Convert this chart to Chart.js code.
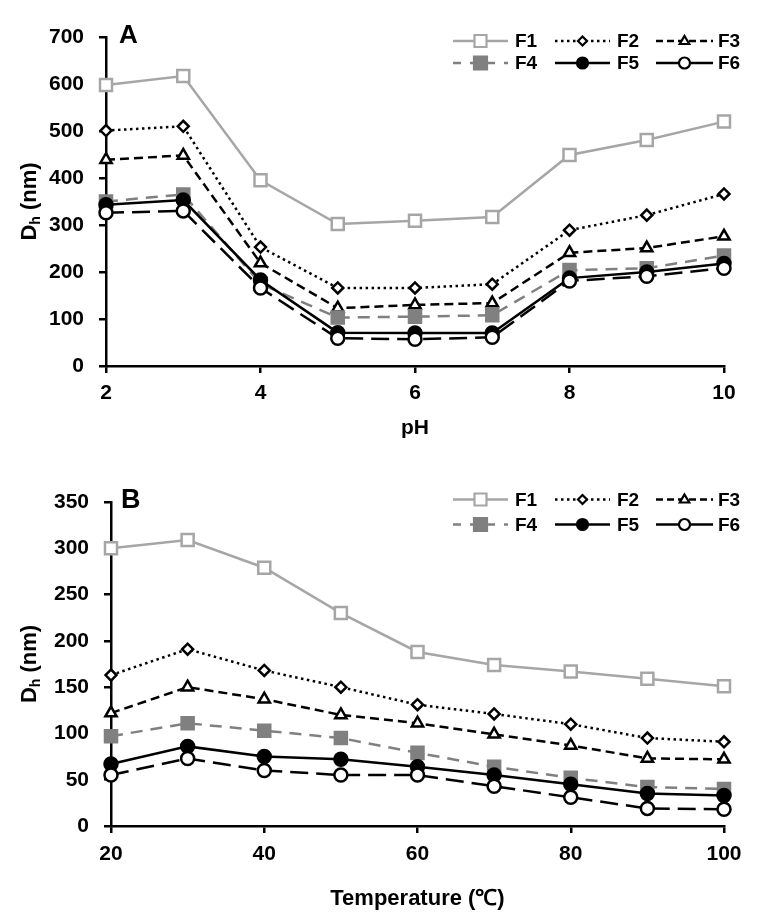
<!DOCTYPE html>
<html>
<head>
<meta charset="utf-8">
<script src="https://cdn.jsdelivr.net/npm/chart.js@4.4.0/dist/chart.umd.min.js"></script>
<style>
  body { margin: 0; background: #fff; }
  canvas { display: block; }
</style>
</head>
<body>
<canvas id="chartA" width="760" height="455"></canvas>
<canvas id="chartB" width="760" height="466"></canvas>
<script>
// ---- data ----
const seriesNames = ['F1', 'F2', 'F3', 'F4', 'F5', 'F6'];

const pH = [2, 3, 4, 5, 6, 7, 8, 9, 10];
const phF1 = [598, 617, 395, 302, 309, 317, 449, 481, 520];
const phF2 = [501, 510, 253, 166, 166, 174, 289, 321, 366];
const phF3 = [439, 448, 219, 123, 130, 134, 241, 251, 276];
const phF4 = [350, 365, 175, 103, 105, 108, 204, 208, 235];
const phF5 = [343, 353, 183, 71, 70, 70, 187, 200, 218];
const phF6 = [326, 330, 166, 59, 57, 61, 181, 191, 208];

const temp = [20, 30, 40, 50, 60, 70, 80, 90, 100];
const tF1 = [300, 309, 279, 230, 188, 174, 167, 159, 151];
const tF2 = [163, 191, 168, 150, 131, 121, 110, 95, 91];
const tF3 = [122, 150, 137, 120, 111, 99, 87, 73, 72];
const tF4 = [97, 111, 103, 95, 79, 64, 52, 42, 40];
const tF5 = [67, 86, 75, 72, 64, 55, 45, 35, 33];
const tF6 = [55, 73, 60, 55, 55, 43, 31, 19, 18];

const phTicks = { min: 2, max: 10, step: 2 };
const phY = { min: 0, max: 700, step: 100 };
const tTicks = { min: 20, max: 100, step: 20 };
const tY = { min: 0, max: 350, step: 50 };

// ---- look of each series ----
const GREY1 = '#a6a6a6';
const GREY2 = '#808080';
const looks = [
  { color: GREY1, dash: [], legendDash: [], point: 'rect', r: 8.5, lr: 6, fill: '#fff' },
  { color: '#000', dash: [2.5, 3.5], legendDash: [2.5, 3.5], point: 'rectRot', r: 5.5, lr: 4.5, fill: '#fff' },
  { color: '#000', dash: [9, 5], legendDash: [7, 4], point: 'triangle', r: 6.5, lr: 5, fill: '#fff' },
  { color: GREY2, dash: [12, 8], legendDash: [8, 9], point: 'rect', r: 8.5, lr: 6.5, fill: GREY2 },
  { color: '#000', dash: [], legendDash: [], point: 'circle', r: 6.5, lr: 5.5, fill: '#000' },
  { color: '#000', dash: [18, 8], legendDash: [], point: 'circle', r: 6.5, lr: 5.5, fill: '#fff' }
];

const FONT = "'Liberation Sans', Arial, sans-serif";

function makeDatasets(xs, series) {
  return series.map((vals, i) => {
    const lk = looks[i];
    return {
      label: seriesNames[i],
      data: xs.map((x, j) => ({ x: x, y: vals[j] })),
      borderColor: lk.color,
      borderWidth: 2.5,
      borderDash: lk.dash,
      pointStyle: lk.point,
      pointRadius: lk.r,
      pointBorderWidth: 2.5,
      pointBorderColor: lk.color,
      pointBackgroundColor: lk.fill,
      tension: 0,
      clip: false,
      order: 6 - i
    };
  });
}

function drawMarker(ctx, type, x, y, r, fill, stroke) {
  ctx.save();
  ctx.setLineDash([]);
  ctx.lineWidth = 2.2;
  ctx.strokeStyle = stroke;
  ctx.fillStyle = fill;
  ctx.beginPath();
  if (type === 'rect') {
    ctx.rect(x - r, y - r, 2 * r, 2 * r);
  } else if (type === 'rectRot') {
    ctx.moveTo(x, y - r); ctx.lineTo(x + r, y); ctx.lineTo(x, y + r); ctx.lineTo(x - r, y);
    ctx.closePath();
  } else if (type === 'triangle') {
    ctx.moveTo(x, y - r); ctx.lineTo(x + r * 0.95, y + r * 0.6); ctx.lineTo(x - r * 0.95, y + r * 0.6);
    ctx.closePath();
  } else {
    ctx.arc(x, y, r, 0, Math.PI * 2);
  }
  ctx.fill();
  ctx.stroke();
  ctx.restore();
}

// panel letter, y title with subscript, and the line-sample legend
const decorations = {
  id: 'decorations',
  afterDraw(chart, args, opts) {
    const ctx = chart.ctx;
    const area = chart.chartArea;
    ctx.save();
    ctx.fillStyle = '#000';

    // panel letter
    ctx.font = 'bold ' + opts.letterSize + 'px ' + FONT;
    ctx.textAlign = 'left';
    ctx.textBaseline = 'middle';
    ctx.fillText(opts.letter, opts.letterX, opts.letterY);

    // y axis title "Dh (nm)"
    const big = 'bold 22px ' + FONT;
    const small = 'bold 14px ' + FONT;
    ctx.font = big; const wD = ctx.measureText('D').width;
    const wRest = ctx.measureText(' (nm)').width;
    ctx.font = small; const wh = ctx.measureText('h').width;
    const total = wD + wh + wRest;
    ctx.translate(opts.titleX, (area.top + area.bottom) / 2);
    ctx.rotate(-Math.PI / 2);
    ctx.textBaseline = 'alphabetic';
    let cx = -total / 2;
    ctx.font = big; ctx.fillText('D', cx, 8); cx += wD;
    ctx.font = small; ctx.fillText('h', cx, 12); cx += wh;
    ctx.font = big; ctx.fillText(' (nm)', cx, 8);
    ctx.setTransform(1, 0, 0, 1, 0, 0);

    // legend: 2 rows x 3 columns
    const colStart = [453, 555, 656];
    const colEnd = [508, 610, 713];
    const colLabel = [515, 617, 718];
    ctx.font = 'bold 19px ' + FONT;
    ctx.textBaseline = 'middle';
    chart.data.datasets.forEach((ds, i) => {
      const lk = looks[i];
      const row = Math.floor(i / 3), col = i % 3;
      const y = opts.legendRows[row];
      ctx.save();
      ctx.strokeStyle = lk.color;
      ctx.lineWidth = 2.5;
      ctx.setLineDash(lk.legendDash);
      ctx.beginPath();
      ctx.moveTo(colStart[col], y);
      ctx.lineTo(colEnd[col], y);
      ctx.stroke();
      ctx.restore();
      const mx = (colStart[col] + colEnd[col]) / 2;
      drawMarker(ctx, lk.point, mx, y, lk.lr, lk.fill, lk.color);
      ctx.fillStyle = '#000';
      ctx.fillText(ds.label, colLabel[col], y + 1);
    });
    ctx.restore();
  }
};

function axisOpts(range, extra) {
  return Object.assign({
    type: 'linear',
    min: range.min,
    max: range.max,
    ticks: {
      stepSize: range.step,
      color: '#000',
      font: { family: FONT, size: 21, weight: 'bold' }
    },
    grid: {
      display: true,
      drawOnChartArea: false,
      drawTicks: true,
      tickLength: 7,
      color: '#000',
      lineWidth: 2.5
    },
    border: { display: true, color: '#000', width: 2.5 }
  }, extra);
}

function makeChart(id, xs, series, xr, yr, cfg) {
  const xAxis = axisOpts(xr, {
    title: {
      display: true,
      text: cfg.xTitle,
      color: '#000',
      font: { family: FONT, size: cfg.xTitleSize, weight: 'bold' },
      padding: { top: 0, bottom: cfg.xTitlePad }
    },
    afterFit(scale) { scale.height = cfg.xHeight; }
  });
  xAxis.ticks.padding = cfg.xTickPad;
  const yAxis = axisOpts(yr, {
    afterFit(scale) { scale.width = cfg.left; }
  });
  yAxis.ticks.padding = 15;

  return new Chart(document.getElementById(id), {
    type: 'line',
    data: { datasets: makeDatasets(xs, series) },
    options: {
      responsive: false,
      animation: false,
      layout: { padding: { top: cfg.top, right: 36, left: 0, bottom: 0 } },
      plugins: {
        legend: { display: false },
        tooltip: { enabled: false },
        decorations: cfg.deco
      },
      scales: { x: xAxis, y: yAxis }
    },
    plugins: [decorations]
  });
}

makeChart('chartA', pH, [phF1, phF2, phF3, phF4, phF5, phF6], phTicks, phY, {
  xTitle: 'pH', xTitleSize: 21, xTitlePad: 14, xHeight: 89, xTickPad: 8,
  left: 106, top: 37,
  deco: { letter: 'A', letterSize: 26, letterX: 119, letterY: 36, titleX: 28, legendRows: [41, 63] }
});

makeChart('chartB', temp, [tF1, tF2, tF3, tF4, tF5, tF6], tTicks, tY, {
  xTitle: 'Temperature (℃)', xTitleSize: 22, xTitlePad: 9, xHeight: 95, xTickPad: 9,
  left: 111, top: 47,
  deco: { letter: 'B', letterSize: 27, letterX: 121, letterY: 46, titleX: 28, legendRows: [44.5, 69.5] }
});
</script>
</body>
</html>
